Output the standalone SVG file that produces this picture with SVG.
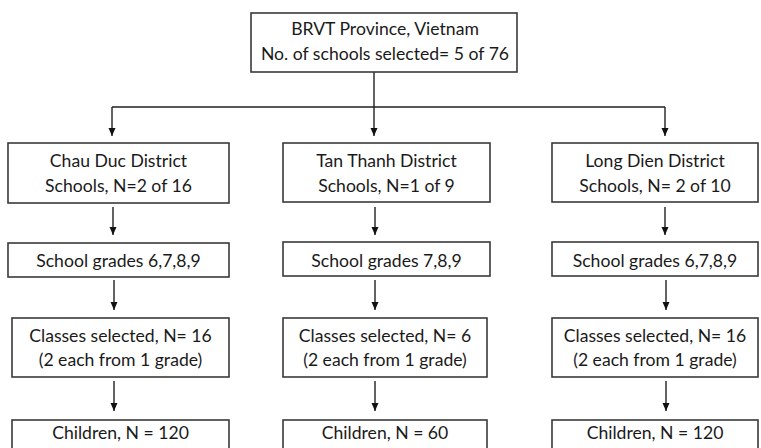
<svg xmlns="http://www.w3.org/2000/svg" width="761" height="448" viewBox="0 0 761 448">
<defs>
<marker id="ah" markerWidth="9" markerHeight="9" refX="8" refY="4" orient="auto" markerUnits="userSpaceOnUse">
<path d="M0,0.5 L8,4 L0,7.5 Z" fill="#111"/>
</marker>
<style>
.box{fill:#fff;stroke:#3a3a3a;stroke-width:1.6}
.t{font-family:Lato,"Open Sans","Liberation Sans",sans-serif;font-size:17.6px;fill:#1a1a1a;text-anchor:middle}
.c{fill:none;stroke:#222;stroke-width:1.4}
.a{fill:none;stroke:#222;stroke-width:1.4;marker-end:url(#ah)}
</style>
</defs>
<rect width="761" height="448" fill="#fff"/>
<g id="connectors">
<path class="c" d="M374,72 V107 M112,107 H665"/>
<path class="a" d="M374,107 V136"/>
<path class="a" d="M112,107 V136"/>
<path class="a" d="M665,107 V136"/>
<path class="a" d="M113,207 V235"/>
<path class="a" d="M375,207 V235"/>
<path class="a" d="M665,207 V235"/>
<path class="a" d="M114,280 V310"/>
<path class="a" d="M375,280 V310"/>
<path class="a" d="M666,280 V310"/>
<path class="a" d="M114,381 V411"/>
<path class="a" d="M375,381 V411"/>
<path class="a" d="M666,381 V411"/>
</g>
<g id="province">
<rect class="box" x="251" y="13" width="266" height="59"/>
<text class="t" x="385" y="35">BRVT Province, Vietnam</text>
<text class="t" x="385" y="60">No. of schools selected= 5 of 76</text>
</g>
<g id="chauduc">
<rect class="box" x="8" y="143" width="221" height="60"/>
<text class="t" x="118.5" y="167">Chau Duc District</text>
<text class="t" x="118.5" y="192">Schools, N=2 of 16</text>
</g>
<g id="tanthanh">
<rect class="box" x="283" y="143" width="207" height="59"/>
<text class="t" x="386.5" y="167">Tan Thanh District</text>
<text class="t" x="386.5" y="192">Schools, N=1 of 9</text>
</g>
<g id="longdien">
<rect class="box" x="552" y="143" width="206" height="59"/>
<text class="t" x="655" y="167">Long Dien District</text>
<text class="t" x="655" y="192">Schools, N= 2 of 10</text>
</g>
<g id="grades1">
<rect class="box" x="8" y="243" width="221" height="34"/>
<text class="t" x="118.5" y="267">School grades 6,7,8,9</text>
</g>
<g id="grades2">
<rect class="box" x="283" y="242" width="207" height="34"/>
<text class="t" x="386.5" y="267">School grades 7,8,9</text>
</g>
<g id="grades3">
<rect class="box" x="552" y="242" width="206" height="34"/>
<text class="t" x="655" y="267">School grades 6,7,8,9</text>
</g>
<g id="classes1">
<rect class="box" x="12" y="318" width="217" height="59"/>
<text class="t" x="120.5" y="342">Classes selected, N= 16</text>
<text class="t" x="120.5" y="366">(2 each from 1 grade)</text>
</g>
<g id="classes2">
<rect class="box" x="283" y="318" width="204" height="59"/>
<text class="t" x="385" y="342">Classes selected, N= 6</text>
<text class="t" x="385" y="366">(2 each from 1 grade)</text>
</g>
<g id="classes3">
<rect class="box" x="552" y="318" width="206" height="59"/>
<text class="t" x="655" y="342">Classes selected, N= 16</text>
<text class="t" x="655" y="366">(2 each from 1 grade)</text>
</g>
<g id="children1">
<rect class="box" x="12" y="420" width="217" height="40"/>
<text class="t" x="120.5" y="439">Children, N = 120</text>
</g>
<g id="children2">
<rect class="box" x="283" y="420" width="204" height="40"/>
<text class="t" x="385" y="439">Children, N = 60</text>
</g>
<g id="children3">
<rect class="box" x="552" y="420" width="206" height="40"/>
<text class="t" x="655" y="439">Children, N = 120</text>
</g>
</svg>
